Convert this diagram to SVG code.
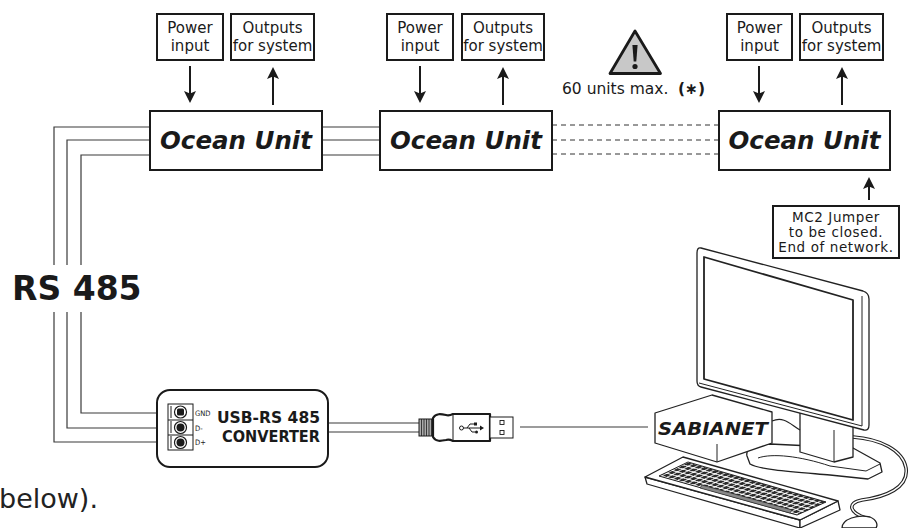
<svg xmlns="http://www.w3.org/2000/svg" width="919" height="528" viewBox="0 0 919 528">
<defs>
<style>
.box{fill:#fff;stroke:#1a1a1a;stroke-width:2}
.lbl{font-family:"DejaVu Sans",Verdana,sans-serif;font-size:15px;fill:#1a1a1a;text-anchor:middle}
.small{font-family:"DejaVu Sans",Verdana,sans-serif;font-size:13.5px;letter-spacing:0.6px;fill:#1a1a1a;text-anchor:middle}
.unit{font-family:"DejaVu Sans",Verdana,sans-serif;font-size:24.5px;font-weight:bold;font-style:italic;fill:#1a1a1a;text-anchor:middle}
.wire{fill:none;stroke:#3a3a3a;stroke-width:1.2}
.dash{fill:none;stroke:#333;stroke-width:1;stroke-dasharray:5 4}
.arr{stroke:#1a1a1a;stroke-width:2;fill:none;marker-end:url(#ah)}
.ln{fill:#fff;stroke:#222;stroke-width:1.3;stroke-linejoin:round}
.bold{font-family:"DejaVu Sans",Verdana,sans-serif;font-weight:bold;fill:#1a1a1a}
.pin{font-family:"DejaVu Sans Condensed","DejaVu Sans",sans-serif;font-size:7.5px;fill:#1a1a1a}
</style>
<marker id="ah" markerUnits="userSpaceOnUse" markerWidth="12" markerHeight="12" refX="6" refY="6" orient="auto">
<path d="M0,0 L12,6 L0,12 L2.5,6 Z" fill="#1a1a1a"/>
</marker>
<pattern id="keys" patternUnits="userSpaceOnUse" width="5.6" height="6" patternTransform="matrix(0.963,0.27,-0.885,0.466,688,462)">
<rect x="0.6" y="0.6" width="4.4" height="4.8" rx="1.2" fill="#2b2b2b"/>
</pattern>
</defs>
<rect width="919" height="528" fill="#fff"/>

<!-- RS 485 bus wiring -->
<g id="connectors">
<path class="wire" d="M150,127 H54 V265 M54,312 V442 H170"/>
<path class="wire" d="M150,140 H67 V265 M67,312 V428 H170"/>
<path class="wire" d="M150,155 H81 V265 M81,312 V413 H170"/>
<path class="wire" d="M322,127 H380 M322,140 H380 M322,155 H380"/>
<path class="dash" d="M552,125 H719 M552,140 H719 M552,154 H719"/>
<path class="wire" d="M328,423 H420 M328,432 H420"/>
<path class="wire" d="M520,427 H648"/>
<line class="arr" x1="190" y1="66" x2="190" y2="97"/>
<line class="arr" x1="273" y1="105" x2="273" y2="73"/>
<line class="arr" x1="420" y1="66" x2="420" y2="97"/>
<line class="arr" x1="503" y1="105" x2="503" y2="73"/>
<line class="arr" x1="759" y1="66" x2="759" y2="97"/>
<line class="arr" x1="842" y1="105" x2="842" y2="73"/>
<line class="arr" x1="869" y1="200" x2="869" y2="183"/>
</g>

<text class="bold" x="12" y="300" font-size="33">RS 485</text>

<!-- unit 1 -->
<g id="power1"><rect class="box" x="157" y="14" width="66" height="46"/>
<text class="lbl" x="190" y="33">Power</text><text class="lbl" x="190" y="51">input</text></g>
<g id="outputs1"><rect class="box" x="231" y="14" width="83" height="46"/>
<text class="lbl" x="272.5" y="33">Outputs</text><text class="lbl" x="272.5" y="51">for system</text></g>
<g id="unit1"><rect class="box" x="150" y="111" width="172" height="59"/>
<text class="unit" x="236" y="149">Ocean Unit</text></g>

<!-- unit 2 -->
<g id="power2"><rect class="box" x="387" y="14" width="66" height="46"/>
<text class="lbl" x="420" y="33">Power</text><text class="lbl" x="420" y="51">input</text></g>
<g id="outputs2"><rect class="box" x="462" y="14" width="82" height="46"/>
<text class="lbl" x="503" y="33">Outputs</text><text class="lbl" x="503" y="51">for system</text></g>
<g id="unit2"><rect class="box" x="380" y="111" width="172" height="59"/>
<text class="unit" x="466" y="149">Ocean Unit</text></g>

<!-- unit limit warning -->
<g id="warning">
<polygon points="635,31 610,73.5 660.5,73.5" fill="#c8c8c8" stroke="#1a1a1a" stroke-width="2.8" stroke-linejoin="round"/>
<path d="M632.4,45 L637.6,45 L636.3,61.5 L633.7,61.5 Z" fill="#1a1a1a"/>
<circle cx="635" cy="66.5" r="2.6" fill="#1a1a1a"/>
<text x="562" y="94" font-family="'DejaVu Sans',Verdana,sans-serif" font-size="15.5" fill="#1a1a1a">60 units max. <tspan x="678" font-weight="bold">(∗)</tspan></text>
</g>

<!-- unit 3 -->
<g id="power3"><rect class="box" x="727" y="14" width="65" height="46"/>
<text class="lbl" x="759.5" y="33">Power</text><text class="lbl" x="759.5" y="51">input</text></g>
<g id="outputs3"><rect class="box" x="800" y="14" width="83" height="46"/>
<text class="lbl" x="841.5" y="33">Outputs</text><text class="lbl" x="841.5" y="51">for system</text></g>
<g id="unit3"><rect class="box" x="719" y="111" width="171" height="59"/>
<text class="unit" x="804.5" y="149">Ocean Unit</text></g>

<g id="jumper"><rect class="box" x="773" y="206" width="126" height="52"/>
<text class="small" x="836" y="222">MC2 Jumper</text>
<text class="small" x="836" y="237">to be closed.</text>
<text class="small" x="836" y="252">End of network.</text></g>

<!-- USB to RS 485 converter -->
<g id="converter">
<rect x="157" y="390" width="171" height="77" rx="13" fill="#fff" stroke="#1a1a1a" stroke-width="2"/>
<rect x="168" y="404" width="25" height="46" fill="#fff" stroke="#1a1a1a" stroke-width="1"/>
<path d="M168,420 H193 M168,435 H193" stroke="#1a1a1a" stroke-width="1"/>
<path d="M171,406 V418 M171,421 V433 M171,436 V448" stroke="#1a1a1a" stroke-width="1"/>
<circle cx="180.5" cy="412" r="6" fill="#fff" stroke="#1a1a1a" stroke-width="1.2"/>
<rect x="177" y="408.5" width="7" height="7" rx="1.5" fill="#1a1a1a"/>
<circle cx="180.5" cy="427.5" r="6" fill="#fff" stroke="#1a1a1a" stroke-width="1.2"/>
<circle cx="180.5" cy="427.5" r="4" fill="#1a1a1a"/>
<circle cx="180.5" cy="442.5" r="6" fill="#fff" stroke="#1a1a1a" stroke-width="1.2"/>
<circle cx="180.5" cy="442.5" r="4" fill="#1a1a1a"/>
<text class="pin" x="195" y="416">GND</text>
<text class="pin" x="195" y="430.5">D-</text>
<text class="pin" x="195" y="445">D+</text>
<text class="bold" x="217" y="423" font-size="15" textLength="103" lengthAdjust="spacingAndGlyphs">USB-RS 485</text>
<text class="bold" x="222" y="442" font-size="15" textLength="98" lengthAdjust="spacingAndGlyphs">CONVERTER</text>
</g>

<!-- USB plug -->
<g id="usb-plug">
<rect x="419" y="419" width="14" height="17" fill="#aaa" stroke="#1a1a1a" stroke-width="1"/>
<path d="M421.5,419 V436 M424,419 V436 M426.5,419 V436 M429,419 V436 M431.5,419 V436" stroke="#1a1a1a" stroke-width="0.8"/>
<path d="M433,418 C436,413 441,414 446,415 C449,416 451,415 453,414 H490 V441 H453 C451,440 449,439 446,440 C441,441 436,442 433,437 Z" fill="#fff" stroke="#1a1a1a" stroke-width="2.2" stroke-linejoin="round"/>
<path d="M453,414 V441" stroke="#1a1a1a" stroke-width="1"/>
<rect x="490" y="417" width="23" height="21" fill="#fff" stroke="#1a1a1a" stroke-width="1"/>
<rect x="500" y="420.5" width="4" height="4" fill="none" stroke="#1a1a1a" stroke-width="0.9"/>
<rect x="500" y="430.5" width="4" height="4" fill="none" stroke="#1a1a1a" stroke-width="0.9"/>
<g fill="none" stroke="#1a1a1a" stroke-width="1">
<circle cx="461.5" cy="428" r="2"/>
<path d="M463.5,428 H480 M467,428 L470,424 H474 M469,428 L472,432 H475"/>
</g>
<path d="M480,425.5 L484,428 L480,430.5 Z" fill="#1a1a1a"/>
<rect x="474" y="422.5" width="3" height="3" fill="#1a1a1a"/>
<circle cx="476.5" cy="432" r="1.5" fill="#1a1a1a"/>
</g>

<!-- computer -->
<g id="computer">
<path d="M853,437 C880,439 903,450 906,468 C909,488 885,497 862,500 C846,503 850,513 866,518" fill="none" stroke="#222" stroke-width="3.6"/>
<path d="M853,437 C880,439 903,450 906,468 C909,488 885,497 862,500 C846,503 850,513 866,518" fill="none" stroke="#fff" stroke-width="1.4"/>
<path class="ln" d="M747,456 C745,448 756,444 770,444 L853,448 L880,463 L882,472 L868,479 L830,475 C795,472 760,470 750,464 Z"/>
<path d="M758,458 C772,453 800,456 830,466 L866,471 L880,464" fill="none" stroke="#222" stroke-width="1"/>
<path class="ln" d="M800,412 L800,452 L834,462 L853,457 L853,426 Z"/>
<path d="M834,430 V462" stroke="#222" stroke-width="1"/>
<path d="M772,421 C784,416 790,424 800,430" fill="none" stroke="#222" stroke-width="1.2"/>
<path class="ln" d="M701,248 L863,291 Q869,293 869,299 L869,425 Q869,431 864,430 L701,387 Q697,386 697,381 L697,253 Q697,247 701,248 Z"/>
<path d="M862,296 V426 M699,383 L862,426" fill="none" stroke="#222" stroke-width="1"/>
<polygon points="704,257 853,300 853,420 704,379" fill="#fff" stroke="#222" stroke-width="1.8" stroke-linejoin="round"/>
<polygon class="ln" points="645,477 800,520 800,528 647,484"/>
<polygon class="ln" points="800,520 838,501 840,510 800,528"/>
<polygon class="ln" points="683,457 838,501 800,520 645,477"/>
<polygon points="688,462 826,502 797,515 659,476" fill="url(#keys)" stroke="#222" stroke-width="1"/>
<polygon points="700,488 790,513 792,510 702,485" fill="#888" stroke="#222" stroke-width="0.6"/>
<path class="ln" d="M842,528 C842,519 858,514 870,517 C877,520 878,525 876,528 Z"/>
</g>

<g id="sabianet">
<polygon class="ln" points="655,413 712,395 772,412 772,443 717,462 655,443"/>
<path d="M717,444 V462" stroke="#222" stroke-width="1"/>
<text class="bold" x="658" y="435" font-size="18" font-style="italic" textLength="110" lengthAdjust="spacingAndGlyphs">SABIANET</text>
</g>

<text x="-1" y="508" font-family="'DejaVu Sans',Verdana,sans-serif" font-size="27" fill="#222">below).</text>
</svg>
